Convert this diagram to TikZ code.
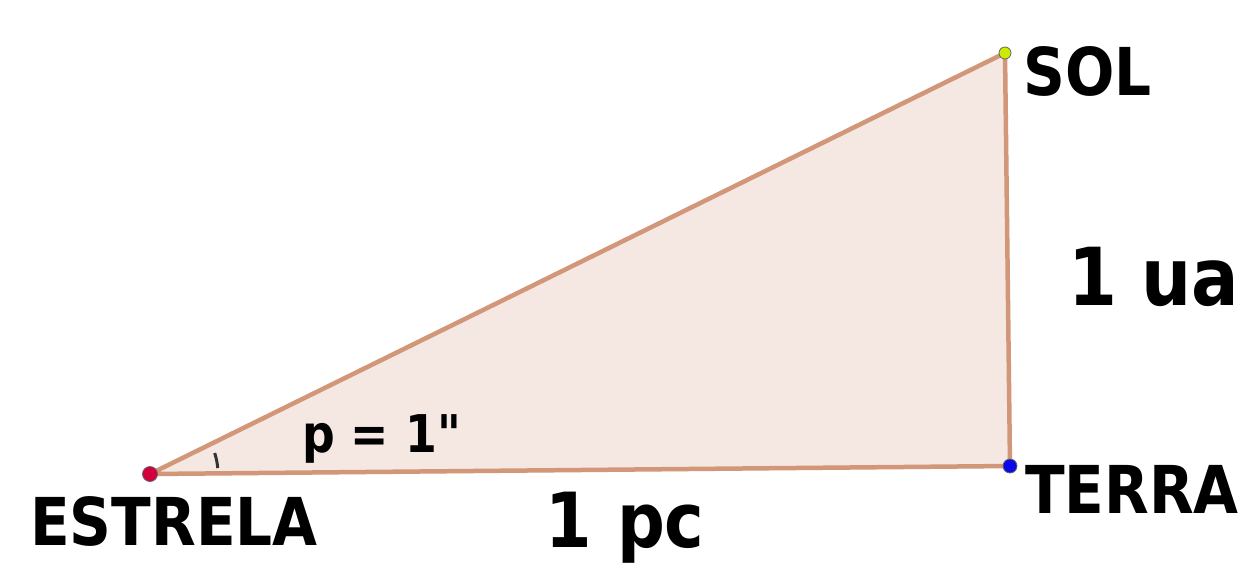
\documentclass[tikz,border=0pt]{standalone}
\usepackage{fontspec}
\usetikzlibrary{calc}
\newfontfamily\labfont{DejaVu Sans}[FakeStretch=0.88]
\definecolor{edgecol}{RGB}{210,150,120}
\definecolor{fillcol}{RGB}{245,232,227}
\definecolor{starcol}{RGB}{210,0,60}
\definecolor{suncol}{RGB}{205,235,0}
\definecolor{earthcol}{RGB}{10,10,230}
\begin{document}
\begin{tikzpicture}[x=1pt,y=-1pt,
  lab/.style={anchor=base west,inner sep=0pt,font=\labfont\bfseries},
  pt/.style={circle,inner sep=0pt,minimum size=#1,draw=black!60,line width=0.8pt},
  side/.style={draw=edgecol,line width=4.5pt,line cap=round,line join=round}]
\useasboundingbox[fill=white] (0,0) rectangle (1243,566);
\coordinate (E) at (150,474);
\coordinate (S) at (1005,53);
\coordinate (T) at (1010,466);
\fill[fillcol] (E) -- (S) -- (T) -- cycle;
\draw[side] (E) -- (S) -- (T) -- cycle;
\draw[black!80,line width=3pt] ($(E)+(-5:68)$) arc[start angle=-5,end angle=-18,radius=68];
\node[pt=15pt,fill=starcol] (Ed) at (E) {};
\node[pt=12pt,fill=suncol] (Sd) at (S) {};
\node[pt=14pt,fill=earthcol] (Td) at (T) {};
\node[lab,font=\labfont\bfseries\fontsize{66}{66}\selectfont] (estrela) at (30,545) {ESTRELA};
\node[lab,font=\labfont\bfseries\fontsize{66}{66}\selectfont] (sol) at (1023,95) {SOL};
\node[lab,font=\labfont\bfseries\fontsize{66}{66}\selectfont] (terra) at (1025,513) {TERRA};
\node[lab,font=\labfont\bfseries\fontsize{80}{80}\selectfont] (ua) at (1068,305) {1 ua};
\node[lab,font=\labfont\bfseries\fontsize{76}{76}\selectfont] (pc) at (545,547) {1\,\,pc};
\node[lab,font=\labfont\bfseries\fontsize{52}{52}\selectfont] (p) at (302,452) {p = 1"};
\end{tikzpicture}
\end{document}
